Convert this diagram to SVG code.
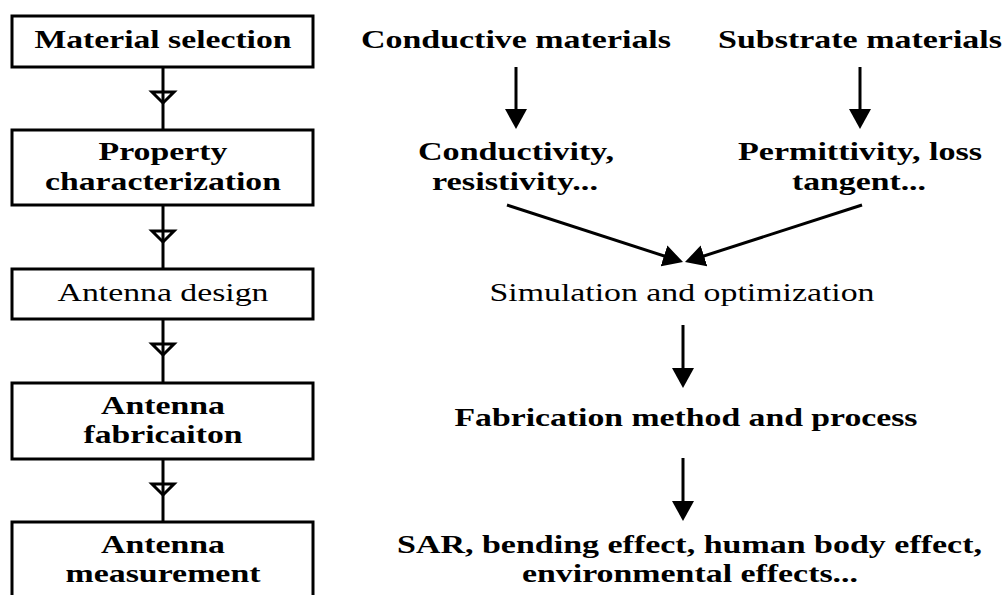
<svg xmlns="http://www.w3.org/2000/svg" width="1005" height="595" viewBox="0 0 1005 595">
<style>
.box{fill:#fff;stroke:#000;stroke-width:3}
.t{font-family:"Liberation Serif","Times New Roman",serif;font-size:25px;fill:#000}
.b{font-weight:bold}
.ln{stroke:#000;stroke-width:3;fill:none}
.tri{fill:none;stroke:#000;stroke-width:3;stroke-linejoin:miter}
.ar{stroke:#000;stroke-width:3;fill:none;marker-end:url(#ah)}
</style>
<defs>
<marker id="ah" markerUnits="userSpaceOnUse" viewBox="0 0 20 22" markerWidth="20" markerHeight="22" refX="10" refY="11" orient="auto">
<path d="M0,0 L20,11 L0,22 Z" fill="#000"/>
</marker>
</defs>
<rect width="1005" height="595" fill="#fff"/>
<g id="connectors">
<line class="ln" x1="163" y1="67" x2="163" y2="130"/>
<polygon class="tri" points="152,92 174,92 163,103"/>
<line class="ln" x1="163" y1="205" x2="163" y2="269"/>
<polygon class="tri" points="152,231 174,231 163,242"/>
<line class="ln" x1="163" y1="319" x2="163" y2="383"/>
<polygon class="tri" points="152,344 174,344 163,355"/>
<line class="ln" x1="163" y1="459" x2="163" y2="522"/>
<polygon class="tri" points="152,484 174,484 163,495"/>
<line class="ar" x1="516" y1="67" x2="516" y2="119"/>
<line class="ar" x1="860" y1="67" x2="860" y2="119"/>
<line class="ar" x1="507" y1="205" x2="673.5" y2="259"/>
<line class="ar" x1="862" y1="205" x2="694.5" y2="259"/>
<line class="ar" x1="683" y1="325" x2="683" y2="378"/>
<line class="ar" x1="683" y1="458" x2="683" y2="511"/>
</g>
<g id="n1">
<rect class="box" x="12" y="16" width="301" height="51"/>
<text class="t b" x="34.5" y="48" textLength="257" lengthAdjust="spacingAndGlyphs">Material selection</text>
</g>
<g id="n2">
<rect class="box" x="12" y="130" width="301" height="75"/>
<text class="t b" x="98.5" y="160" textLength="129" lengthAdjust="spacingAndGlyphs">Property</text>
<text class="t b" x="45" y="190" textLength="236" lengthAdjust="spacingAndGlyphs">characterization</text>
</g>
<g id="n3">
<rect class="box" x="12" y="269" width="301" height="50"/>
<text class="t" x="57.5" y="301" textLength="211" lengthAdjust="spacingAndGlyphs">Antenna design</text>
</g>
<g id="n4">
<rect class="box" x="12" y="383" width="301" height="76"/>
<text class="t b" x="101" y="414" textLength="124" lengthAdjust="spacingAndGlyphs">Antenna</text>
<text class="t b" x="83.5" y="443" textLength="159" lengthAdjust="spacingAndGlyphs">fabricaiton</text>
</g>
<g id="n5">
<rect class="box" x="12" y="522" width="301" height="100"/>
<text class="t b" x="101" y="553" textLength="124" lengthAdjust="spacingAndGlyphs">Antenna</text>
<text class="t b" x="65.5" y="582" textLength="195" lengthAdjust="spacingAndGlyphs">measurement</text>
</g>
<g id="conductive">
<text class="t b" x="361" y="48" textLength="310" lengthAdjust="spacingAndGlyphs">Conductive materials</text>
</g>
<g id="substrate">
<text class="t b" x="718" y="48" textLength="284" lengthAdjust="spacingAndGlyphs">Substrate materials</text>
</g>
<g id="conductivity">
<text class="t b" x="418" y="160" textLength="196" lengthAdjust="spacingAndGlyphs">Conductivity,</text>
<text class="t b" x="432" y="190" textLength="166" lengthAdjust="spacingAndGlyphs">resistivity...</text>
</g>
<g id="permittivity">
<text class="t b" x="738" y="160" textLength="244" lengthAdjust="spacingAndGlyphs">Permittivity, loss</text>
<text class="t b" x="792" y="190" textLength="134" lengthAdjust="spacingAndGlyphs">tangent...</text>
</g>
<g id="simulation">
<text class="t" x="489.5" y="301" textLength="385" lengthAdjust="spacingAndGlyphs">Simulation and optimization</text>
</g>
<g id="fabrication">
<text class="t b" x="454.5" y="426" textLength="463" lengthAdjust="spacingAndGlyphs">Fabrication method and process</text>
</g>
<g id="effects">
<text class="t b" x="397" y="553" textLength="585" lengthAdjust="spacingAndGlyphs">SAR, bending effect, human body effect,</text>
<text class="t b" x="522" y="582" textLength="336" lengthAdjust="spacingAndGlyphs">environmental effects...</text>
</g>
</svg>
